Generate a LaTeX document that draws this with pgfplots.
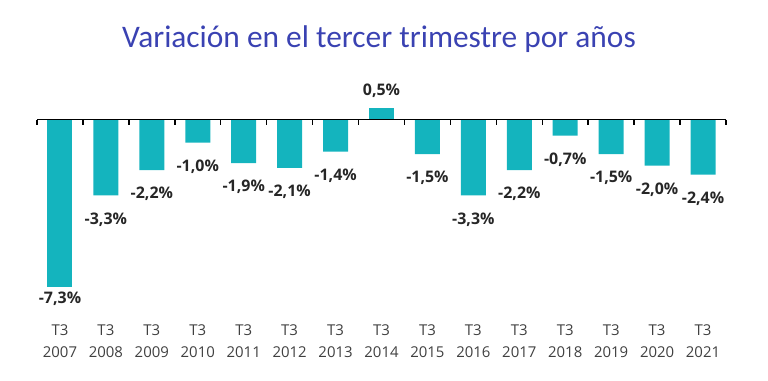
\documentclass[border=0pt]{standalone}
\usepackage{pgfplots}
\pgfplotsset{compat=1.18}
\usepackage{pgfplotstable}
\usepackage{fontspec}
\setmainfont{Open Sans}
\newfontfamily\titlefont{Carlito}
\definecolor{barteal}{HTML}{14B4BE}
\definecolor{titleblue}{HTML}{3A42B2}
\definecolor{lbl}{HTML}{262626}
\definecolor{tickc}{HTML}{404040}

\pgfplotstableread{
x y lab
1 -3.3 {-3,3\%}
2 -2.2 {-2,2\%}
3 -1.0 {-1,0\%}
4 -1.9 {-1,9\%}
5 -2.1 {-2,1\%}
6 -1.4 {-1,4\%}
8 -1.5 {-1,5\%}
9 -3.3 {-3,3\%}
10 -2.2 {-2,2\%}
11 -0.7 {-0,7\%}
12 -1.5 {-1,5\%}
13 -2.0 {-2,0\%}
14 -2.4 {-2,4\%}
}\negbars

\pgfplotstableread{
x y lab
7 0.5 {0,5\%}
}\posbars

\pgfplotstableread{
x y lab
0 -7.3 {-7,3\%}
}\firstbar

\begin{document}
\begin{tikzpicture}
\path[use as bounding box] (0bp,0bp) rectangle (768bp,381bp);
\node[font=\titlefont\fontsize{31.5}{36}\selectfont, text=titleblue] at (379bp,342bp) {Variación en el tercer trimestre por años};
\begin{axis}[
  at={(37bp,77.5bp)}, anchor=south west,
  scale only axis, width=689bp, height=207bp,
  xmin=-0.5, xmax=14.5, ymin=-8, ymax=1,
  axis line style={draw=none},
  hide y axis,
  clip=false,
  ybar, bar width=25bp, bar shift=0pt,
  xtick={0,...,14},
  xticklabels={{T3\\2007},{T3\\2008},{T3\\2009},{T3\\2010},{T3\\2011},{T3\\2012},{T3\\2013},{T3\\2014},{T3\\2015},{T3\\2016},{T3\\2017},{T3\\2018},{T3\\2019},{T3\\2020},{T3\\2021}},
  major tick length=0pt,
  tick style={draw=none},
  xticklabel style={font=\fontsize{15}{22}\selectfont, text=tickc, align=center, yshift=-18bp},
  nodes near coords,
  point meta=explicit symbolic,
  every node near coord/.append style={font=\bfseries\fontsize{16}{18}\selectfont, text=lbl},
]
\addplot[fill=barteal, draw=none, every node near coord/.append style={anchor=north, inner sep=0pt, yshift=-17bp}] table[x=x, y=y, meta=lab] {\negbars};
\addplot[fill=barteal, draw=none, every node near coord/.append style={anchor=south, inner sep=0pt, yshift=10bp}] table[x=x, y=y, meta=lab] {\posbars};
\addplot[fill=barteal, draw=none, every node near coord/.append style={anchor=north, inner sep=0pt, yshift=-4bp}] table[x=x, y=y, meta=lab] {\firstbar};
\draw[black, line width=1.8bp] (axis cs:-0.5,0) -- (axis cs:14.5,0);
\pgfplotsinvokeforeach{-0.5,0.5,1.5,2.5,3.5,4.5,5.5,6.5,7.5,8.5,9.5,10.5,11.5,12.5,13.5,14.5}{
  \draw[black, line width=1.5bp] (axis cs:#1,0) -- ++(0bp,-5bp);
}
\end{axis}
\end{tikzpicture}
\end{document}
